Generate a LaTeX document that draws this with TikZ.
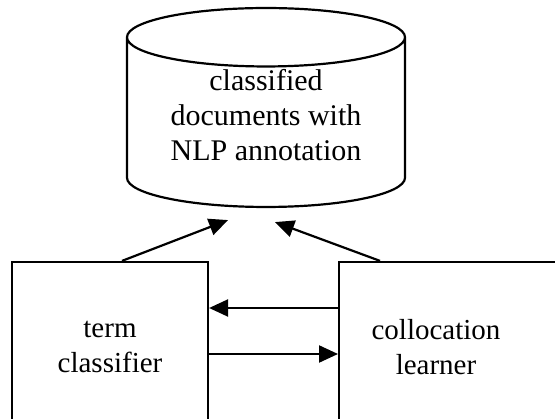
\documentclass[tikz,border=0pt]{standalone}
\usepackage{fontspec}
\setmainfont{Liberation Serif}
\usetikzlibrary{arrows.meta,positioning,shapes.geometric}

\tikzset{
  box/.style={draw, line width=2.2pt, minimum width=196pt, minimum height=166pt, inner sep=0pt},
  lbl/.style={align=center, font=\fontsize{29}{35}\selectfont},
  store/.style={draw, line width=2.2pt, cylinder, shape border rotate=90, aspect=0.3,
    minimum width=278pt, minimum height=191pt, align=center, inner sep=2pt, text depth=20pt,
    font=\fontsize{30}{35}\selectfont},
  flow/.style={line width=2.2pt, -{Triangle[length=19pt,width=17pt]}}
}

\begin{document}
\begin{tikzpicture}[x=1pt,y=1pt]
\useasboundingbox (0,0) rectangle (555,-419);
\clip (0,0) rectangle (555,-419);
% database on top
\node[store, anchor=shape center] (docs) at (266,-107.5) {classified\\documents with\\NLP annotation};
\coordinate (docsinl) at ([shift={(-38,-12)}]docs.south);
\coordinate (docsinr) at ([shift={(9,-14)}]docs.south);
% the two modules
\node[box] (classifier) at (110,-345) {};
\node[lbl] (classifiertxt) at ([yshift=-2pt]classifier) {term\\classifier};
\node[box, minimum width=250pt, anchor=west] (learner) at (338,-345) {};
\node[lbl] (learnertxt) at ([shift={(98pt,-2pt)}]learner.west) {collocation\\learner};
% arrows
\draw[flow] ([xshift=12pt]classifier.north) -- (docsinl);
\draw[flow] ([xshift=42pt]learner.north west) -- (docsinr);
\draw[flow] ([yshift=37pt]learner.west) -- ([yshift=37pt]classifier.east);
\draw[flow] ([yshift=-9pt]classifier.east) -- ([yshift=-9pt]learner.west);
\end{tikzpicture}
\end{document}
